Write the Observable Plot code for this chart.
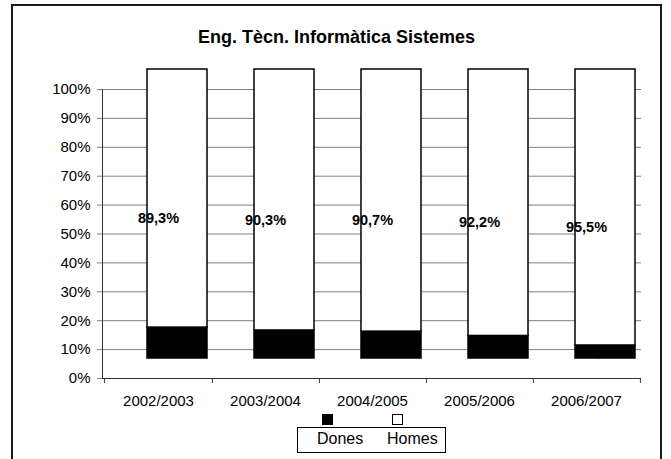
<!DOCTYPE html>
<html><head><meta charset="utf-8">
<script src="https://cdn.jsdelivr.net/npm/d3@7"></script>
<script src="https://cdn.jsdelivr.net/npm/@observablehq/plot@0.6"></script>
<style>
html,body{margin:0;padding:0;background:#fff;}
#wrap{position:relative;width:671px;height:459px;overflow:hidden;font-family:"Liberation Sans",Arial,sans-serif;color:#000;}
#border{position:absolute;left:11px;top:4px;width:651px;height:480px;box-sizing:border-box;border:2px solid #1a1a1a;}
#title{position:absolute;left:11px;width:651px;top:28px;line-height:18px;font-size:18px;font-weight:bold;text-align:center;}
#chart{position:absolute;left:0;top:0;}
#legbox{position:absolute;left:297px;top:427px;width:149px;height:26px;box-sizing:border-box;border:1px solid #000;background:#fff;}
.legtxt{position:absolute;top:431px;font-size:16px;line-height:16px;white-space:nowrap;}
.legsw{position:absolute;top:414px;width:11px;height:11px;box-sizing:border-box;border:1.5px solid #000;}
</style>
</head><body>
<div id="wrap">
  <div id="chart"></div>
  <div id="border"></div>
  <div id="title"></div>
  <div id="legbox"></div>
</div>
<script>
const title = "Eng. Tècn. Informàtica Sistemes";
const years = ["2002/2003", "2003/2004", "2004/2005", "2005/2006", "2006/2007"];
const dones = [10.7, 9.7, 9.3, 7.8, 4.5];
const homes = [89.3, 90.3, 90.7, 92.2, 95.5];
const series = ["Dones", "Homes"];
const seriesColors = ["#000000", "#ffffff"];
const yTicks = [0, 10, 20, 30, 40, 50, 60, 70, 80, 90, 100];

const rows = [];
years.forEach((y, i) => {
  rows.push({year: y, sex: "Dones", value: dones[i]});
  rows.push({year: y, sex: "Homes", value: homes[i]});
});
const fmt = v => v.toFixed(1).replace(".", ",") + "%";

const W = 671, H = 459, mL = 102, mR = 30, mT = 89, mB = 81;
const step = (W - mL - mR) / years.length;
const font = '"Liberation Sans", Arial, sans-serif';
const axisColor = "#333";

const chart = Plot.plot({
  width: W, height: H,
  marginLeft: mL, marginRight: mR, marginTop: mT, marginBottom: mB,
  style: {fontFamily: font, fontSize: "15px", background: "transparent", overflow: "visible", color: "#000"},
  x: {domain: years, paddingInner: 0.44, paddingOuter: 0.22, axis: null, label: null},
  y: {domain: [0, 100], axis: null, label: null},
  color: {domain: series, range: seriesColors},
  marks: [
    Plot.gridY(yTicks, {stroke: "#808080", strokeOpacity: 1, strokeWidth: 1}),
    Plot.barY(rows, Plot.stackY({x: "year", y: "value", fill: "sex", order: series,
      stroke: "#000", strokeWidth: 1.5, dx: 19, dy: -20})),
    Plot.text(rows, Plot.stackY({x: "year", y: "value", z: "sex", order: series,
      text: d => d.sex === "Dones" ? fmt(d.value) : null,
      fill: "#000", fontSize: 14.5, fontWeight: "bold", dx: 19, dy: -21})),
    Plot.text(rows, Plot.stackY({x: "year", y: "value", z: "sex", order: series,
      text: d => d.sex === "Homes" ? fmt(d.value) : null,
      fill: "#000", fontSize: 14.5, fontWeight: "bold"})),
    Plot.axisY(yTicks, {tickFormat: d => d + "%", tickSize: 5, tickPadding: 7, fontSize: 15, stroke: "#808080", fill: "#000", label: null}),
    Plot.axisX({tickSize: 0, tickPadding: 17, fontSize: 15, fill: "#000", label: null}),
    Plot.frame({anchor: "left", stroke: axisColor}),
    Plot.ruleY([0], {stroke: axisColor}),
    Plot.ruleX(years, {x: d => d, y1: 0, y2: 0, insetBottom: -5, dx: step / 2, stroke: axisColor}),
    Plot.ruleX([years[0]], {x: d => d, y1: 0, y2: 0, insetBottom: -5, dx: -step / 2, stroke: axisColor})
  ]
});
document.getElementById("chart").appendChild(chart);
document.getElementById("title").textContent = title;

// legend built from series arrays
const wrap = document.getElementById("wrap");
const legTextLeft = [317, 387];
const legSwLeft = [322, 392];
series.forEach((s, i) => {
  const sw = document.createElement("div");
  sw.className = "legsw";
  sw.style.left = legSwLeft[i] + "px";
  sw.style.background = seriesColors[i];
  wrap.appendChild(sw);
  const t = document.createElement("div");
  t.className = "legtxt";
  t.style.left = legTextLeft[i] + "px";
  t.textContent = s;
  wrap.appendChild(t);
});
</script>
</body></html>
